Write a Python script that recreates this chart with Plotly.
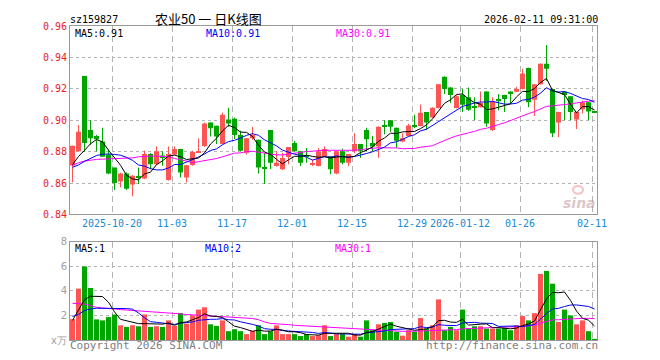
import plotly.graph_objects as go

# ---------------- data ----------------
oct_days = ["09","10","13","14","15","16","17","20","21","22","23","24","27","28","29","30","31"]
nov_days = ["03","04","05","06","07","10","11","12","13","14","17","18","19","20","21","24","25","26","27","28"]
dec_days = ["01","02","03","04","05","08","09","10","11","12","15","16","17","18","19","22","23","24","25","26","29","30","31"]
jan_days = ["05","06","07","08","09","12","13","14","15","16","19","20","21","22","23","26","27","28","29","30"]
feb_days = ["02","03","04","05","06","09","10","11"]
dates = (["2025-10-" + d for d in oct_days] + ["2025-11-" + d for d in nov_days] +
         ["2025-12-" + d for d in dec_days] + ["2026-01-" + d for d in jan_days] +
         ["2026-02-" + d for d in feb_days])

opens = [0.8712,0.8802,0.9281,0.8938,0.8900,0.8865,0.8781,0.8698,0.8610,0.8660,
         0.8590,0.8637,0.8629,0.8785,0.8719,0.8775,0.8619,0.8781,0.8817,0.8635,
         0.8715,0.8796,0.8835,0.8985,0.8965,0.8848,0.9004,0.9010,0.8906,0.8792,
         0.8885,0.8875,0.8696,0.8938,0.8708,0.8688,0.8765,0.8854,0.8802,0.8773,
         0.8717,0.8708,0.8771,0.8771,0.8660,0.8802,0.8729,0.8802,0.8848,0.8938,
         0.8854,0.8833,0.8965,0.9000,0.8952,0.8865,0.8900,0.8967,0.8963,0.9052,
         0.9017,0.9077,0.9277,0.9208,0.9077,0.9160,0.9146,0.9085,0.9083,0.9183,
         0.8938,0.9135,0.9160,0.9183,0.9181,0.9198,0.9333,0.9131,0.9229,0.9360,
         0.9198,0.8985,0.9183,0.9152,0.9004,0.9069,0.9115,0.9054]
highs = [0.8838,0.8969,0.9281,0.9000,0.8906,0.8952,0.8813,0.8698,0.8665,0.8667,
         0.8650,0.8698,0.8806,0.8790,0.8833,0.8802,0.8833,0.8833,0.8817,0.8715,
         0.8806,0.8885,0.8985,0.8985,0.8965,0.9048,0.9079,0.9017,0.8933,0.8885,
         0.8958,0.8877,0.8792,0.8938,0.8802,0.8792,0.8829,0.8869,0.8802,0.8823,
         0.8750,0.8823,0.8833,0.8771,0.8802,0.8819,0.8785,0.8917,0.8848,0.8952,
         0.8900,0.8960,0.9000,0.9000,0.8952,0.8917,0.8977,0.9035,0.9100,0.9052,
         0.9082,0.9231,0.9279,0.9210,0.9160,0.9200,0.9208,0.9146,0.9183,0.9185,
         0.9146,0.9167,0.9162,0.9185,0.9213,0.9327,0.9335,0.9231,0.9362,0.9479,
         0.9200,0.9054,0.9185,0.9154,0.9054,0.9125,0.9117,0.9056]
lows = [0.8604,0.8802,0.8798,0.8844,0.8802,0.8767,0.8656,0.8556,0.8573,0.8556,
        0.8515,0.8594,0.8625,0.8688,0.8715,0.8710,0.8615,0.8780,0.8635,0.8604,
        0.8710,0.8794,0.8830,0.8896,0.8848,0.8848,0.8958,0.8881,0.8802,0.8781,
        0.8875,0.8660,0.8594,0.8688,0.8704,0.8683,0.8719,0.8800,0.8708,0.8729,
        0.8708,0.8706,0.8767,0.8656,0.8656,0.8719,0.8708,0.8790,0.8760,0.8802,
        0.8802,0.8760,0.8910,0.8927,0.8823,0.8860,0.8898,0.8950,0.8960,0.8938,
        0.9015,0.9075,0.9167,0.9110,0.9075,0.9052,0.9060,0.9000,0.9081,0.8958,
        0.8931,0.9063,0.9052,0.9104,0.9179,0.9196,0.9083,0.9027,0.9227,0.9250,
        0.8892,0.8892,0.9000,0.9000,0.8944,0.9042,0.9000,0.9050]
closes = [0.8838,0.8927,0.8854,0.8885,0.8879,0.8767,0.8660,0.8600,0.8660,0.8563,
          0.8646,0.8633,0.8785,0.8719,0.8802,0.8765,0.8785,0.8817,0.8667,0.8713,
          0.8798,0.8802,0.8979,0.8948,0.8896,0.9035,0.8979,0.8906,0.8806,0.8885,
          0.8906,0.8698,0.8692,0.8729,0.8729,0.8760,0.8829,0.8802,0.8729,0.8767,
          0.8721,0.8802,0.8817,0.8688,0.8802,0.8729,0.8785,0.8848,0.8806,0.8879,
          0.8833,0.8958,0.8958,0.8958,0.8869,0.8885,0.8967,0.8963,0.9048,0.8985,
          0.9079,0.9229,0.9198,0.9160,0.9152,0.9098,0.9067,0.9083,0.9110,0.8979,
          0.9121,0.9120,0.9135,0.9167,0.9198,0.9298,0.9115,0.9229,0.9360,0.9327,
          0.8917,0.9052,0.9160,0.9052,0.9052,0.9115,0.9056,0.9052]
volumes = [1.70,4.19,6.00,4.24,1.68,1.60,1.87,2.08,1.20,1.07,
           1.20,1.12,2.08,1.07,1.12,1.07,1.60,1.15,2.19,1.33,
           2.00,2.48,2.67,1.28,1.15,1.60,0.72,0.88,0.72,0.48,
           0.75,1.20,0.48,0.72,1.20,0.48,0.48,0.48,0.32,0.48,
           0.32,0.40,1.20,0.32,0.48,0.48,0.27,0.48,0.27,1.60,
           0.80,1.28,1.39,1.47,0.67,0.35,0.80,0.67,1.79,0.93,
           1.20,3.31,0.80,1.07,0.80,2.48,0.93,1.12,1.12,0.93,
           0.93,0.93,0.99,0.80,1.20,1.95,1.60,2.19,5.39,5.63,
           4.59,1.47,2.48,2.00,1.28,1.60,0.72,0.08]

# moving-average values before a full window exists (they depend on earlier
# sessions not shown)
ma5_head = [0.8717, 0.8769, 0.8808, 0.8850]
ma10_head = [0.8700, 0.8715, 0.8738, 0.8758, 0.8775, 0.8783, 0.8785, 0.8782, 0.8777]
ma30_head = [0.8712, 0.8729, 0.8740, 0.8746, 0.8750, 0.8752, 0.8754, 0.8755, 0.8756,
             0.8758, 0.8760, 0.8767, 0.8771, 0.8771, 0.8771, 0.8771, 0.8767, 0.8756,
             0.8750, 0.8740, 0.8729, 0.8735, 0.8742, 0.8746, 0.8756, 0.8767, 0.8781,
             0.8790, 0.8792]
vma5_head = [1.60, 2.48, 3.28, 3.57]
vma10_head = [1.92, 2.08, 2.40, 2.53, 2.59, 2.59, 2.59, 2.62, 2.62]
vma30_head = [2.99, 2.93, 2.93, 2.80, 2.67, 2.61, 2.59, 2.53, 2.48, 2.45, 2.40, 2.38,
              2.35, 2.33, 2.30, 2.27, 2.24, 2.21, 2.13, 2.08, 2.05, 2.02, 2.00, 1.98,
              1.95, 1.92, 1.90, 1.87, 1.84]

tick_dates = ["2025-10-20","2025-11-03","2025-11-17","2025-12-01","2025-12-15",
              "2025-12-29","2026-01-12","2026-01-26","2026-02-11"]
tick_labels = ["2025-10-20","11-03","11-17","12-01","12-15","12-29","2026-01-12","01-26","02-11"]
price_ticks = [0.84, 0.86, 0.88, 0.90, 0.92, 0.94, 0.96]
vol_ticks = [0, 2, 4, 6, 8]
vol_tick_labels = ["x万", "2", "4", "6", "8"]

# ---------------- helpers ----------------
def moving_average(values, n, head):
    out = []
    for i in range(len(values)):
        if i < n - 1:
            out.append(head[i])
        else:
            out.append(sum(values[i - n + 1:i + 1]) / n)
    return out

RED = "#ff5454"
GREEN = "#00a600"
MONO = "DejaVu Sans Mono"

n = len(dates)
xs = list(range(n))
up = [c >= o for o, c in zip(opens, closes)]
colors = [RED if u else GREEN for u in up]

body_base = [min(o, c) for o, c in zip(opens, closes)]
body_h = [max(abs(c - o), 0.00065) for o, c in zip(opens, closes)]

fig = go.Figure()

# wicks
for flag, col in ((True, RED), (False, GREEN)):
    wx, wy = [], []
    for i in xs:
        if up[i] == flag:
            wx += [i, i, None]
            wy += [lows[i], highs[i], None]
    fig.add_trace(go.Scatter(x=wx, y=wy, mode="lines", line=dict(color=col, width=1),
                             hoverinfo="skip", xaxis="x", yaxis="y"))

# bodies
fig.add_trace(go.Bar(x=xs, y=body_h, base=body_base, width=5 / 6,
                     marker=dict(color=colors, line=dict(width=0)),
                     hoverinfo="skip", xaxis="x", yaxis="y"))

# price moving averages
for vals, col in ((moving_average(closes, 30, ma30_head), "#ff00ff"),
                  (moving_average(closes, 10, ma10_head), "#0000ff"),
                  (moving_average(closes, 5, ma5_head), "#000000")):
    fig.add_trace(go.Scatter(x=xs, y=vals, mode="lines", line=dict(color=col, width=1),
                             hoverinfo="skip", xaxis="x", yaxis="y"))

# volume
fig.add_trace(go.Bar(x=xs, y=volumes, width=5 / 6,
                     marker=dict(color=colors, line=dict(width=0)),
                     hoverinfo="skip", xaxis="x2", yaxis="y2"))
for vals, col in ((moving_average(volumes, 30, vma30_head), "#ff00ff"),
                  (moving_average(volumes, 10, vma10_head), "#0000ff"),
                  (moving_average(volumes, 5, vma5_head), "#000000")):
    fig.add_trace(go.Scatter(x=xs, y=vals, mode="lines", line=dict(color=col, width=1),
                             hoverinfo="skip", xaxis="x2", yaxis="y2"))

tick_pos = [dates.index(d) - 2.5 / 6 for d in tick_dates]
xrange = [-2.5 / 6, n - 1 + 2.5 / 6]

common_x = dict(range=xrange, tickmode="array", tickvals=tick_pos, showgrid=True,
                gridcolor="#b4b4b4", griddash="6px,4px", gridwidth=1, zeroline=False,
                showline=True, mirror=True, linecolor="#999999", linewidth=1, ticks="")

# the page body adds an 8px offset; the figure is sized so the plot area
# lands at x 70..597, y 20..340 of the window
fig.update_layout(
    width=652, height=352,
    margin=dict(l=62, r=63, t=12, b=20),
    paper_bgcolor="white", plot_bgcolor="white",
    showlegend=False, barmode="overlay", hovermode=False,
    xaxis=dict(common_x, domain=[0, 1], anchor="y", ticktext=tick_labels,
               tickfont=dict(family=MONO, size=10, color="#1a8ad4")),
    xaxis2=dict(common_x, domain=[0, 1], anchor="y2", showticklabels=False),
    yaxis=dict(domain=[0.4, 1], range=[0.84, 0.96], tickmode="array", tickvals=price_ticks,
               ticktext=["%.2f" % v for v in price_ticks],
               tickfont=dict(family=MONO, size=10, color="#ee1c1c"),
               showgrid=True, gridcolor="#b4b4b4", griddash="dot", zeroline=False,
               showline=True, mirror=True, linecolor="#999999", linewidth=1, ticks=""),
    yaxis2=dict(domain=[0, 0.3125], range=[0, 8], tickmode="array", tickvals=vol_ticks,
                ticktext=vol_tick_labels,
                tickfont=dict(family="DejaVu Sans", size=10, color="#a0a0a0"),
                showgrid=True, gridcolor="#b4b4b4", griddash="dot", zeroline=False,
                showline=True, mirror=True, linecolor="#999999", linewidth=1, ticks=""),
)

def px_x(px):
    return (px - 70) / 527.0

def px_y(py):
    return (340 - py) / 320.0

def note(text, x, y, anchor, color, size=10, family=MONO):
    fig.add_annotation(text=text, x=px_x(x), y=px_y(y), xref="paper", yref="paper",
                       xanchor=anchor, yanchor="middle", showarrow=False, borderpad=0,
                       font=dict(family=family, size=size, color=color))

note("sz159827", 69, 13, "left", "#000000")
note("农业50 一 日K线图", 208, 12, "center", "#000000", size=13, family="Noto Sans CJK SC")
note("2026-02-11 09:31:00", 599, 13, "right", "#000000")
note("MA5:0.91", 74, 28, "left", "#000000")
note("MA10:0.91", 205, 28, "left", "#0000ff")
note("MA30:0.91", 335, 28, "left", "#ff00ff")
note("MA5:1", 74, 247, "left", "#000000")
note("MA10:2", 204, 247, "left", "#0000ff")
note("MA30:1", 334, 247, "left", "#ff00ff")
note("Copyright 2026 SINA.COM", 69, 346, "left", "#808080", size=11)
note("http://finance.sina.com.cn", 599, 346, "right", "#808080", size=11)
note("<b><i>sina</i></b>", 579, 200, "center", "rgba(190,150,150,0.55)", size=14,
     family="DejaVu Sans")
fig.add_shape(type="circle", xref="paper", yref="paper",
              x0=px_x(573), x1=px_x(583), y0=px_y(191), y1=px_y(183),
              line=dict(color="rgba(230,120,120,0.45)", width=2))

fig.write_html("out.html")
